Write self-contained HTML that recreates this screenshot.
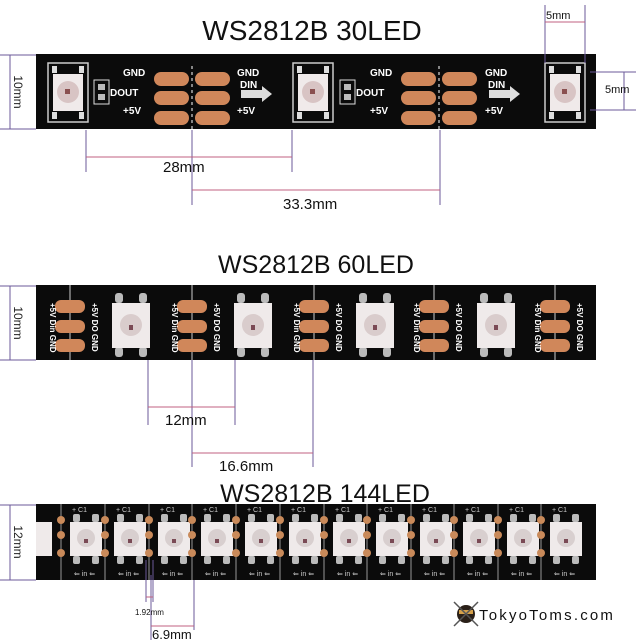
<!DOCTYPE html>
<html><head><meta charset="utf-8"><style>
html,body{margin:0;padding:0;background:#fff;width:640px;height:640px;overflow:hidden}
text{font-family:"Liberation Sans",sans-serif}
</style></head><body>
<svg width="640" height="640" viewBox="0 0 640 640" xmlns="http://www.w3.org/2000/svg">
<defs>
  <g id="led1">
    <rect x="0" y="0" width="40" height="59" fill="none" stroke="#ccc" stroke-width="1.5"/>
    <rect x="4" y="3" width="5" height="7" fill="#ddd"/><rect x="31" y="3" width="5" height="7" fill="#ddd"/>
    <rect x="4" y="49" width="5" height="7" fill="#ddd"/><rect x="31" y="49" width="5" height="7" fill="#ddd"/>
    <rect x="5" y="11" width="30" height="37" fill="#f0eaea"/>
    <circle cx="20" cy="29" r="11" fill="#d8c4c4"/><rect x="17" y="26" width="5" height="5" fill="#8a5050"/>
  </g>
  <g id="pads1">
    <rect x="0" y="11" width="35" height="14" rx="7" fill="#d0875a"/>
    <rect x="0" y="30" width="35" height="14" rx="7" fill="#d0875a"/>
    <rect x="0" y="50" width="35" height="14" rx="7" fill="#d0875a"/>
    <rect x="41" y="11" width="35" height="14" rx="7" fill="#d0875a"/>
    <rect x="41" y="30" width="35" height="14" rx="7" fill="#d0875a"/>
    <rect x="41" y="50" width="35" height="14" rx="7" fill="#d0875a"/>
    <line x1="38" y1="5" x2="38" y2="74" stroke="#fff" stroke-width="1" stroke-dasharray="3,3"/>
  </g>
  <g id="lab1">
    <text x="0" y="21" font-size="10" fill="#fff" font-weight="bold">GND</text>
    <text x="0" y="59" font-size="10" fill="#fff" font-weight="bold">+5V</text>
  </g>
  <g id="pads2">
    <line x1="0" y1="0" x2="0" y2="75" stroke="#ccc" stroke-width="1"/>
    <rect x="-15" y="15" width="30" height="13" rx="6" fill="#d0875a"/>
    <rect x="-15" y="35" width="30" height="13" rx="6" fill="#d0875a"/>
    <rect x="-15" y="54" width="30" height="13" rx="6" fill="#d0875a"/>
    <text transform="translate(-20,18) rotate(90)" font-size="8" fill="#fff" font-weight="bold">+5V Din GND</text>
    <text transform="translate(22,18) rotate(90)" font-size="8" fill="#fff" font-weight="bold">+5V DO GND</text>
  </g>
  <g id="led2">
    <rect x="3" y="8" width="8" height="10" rx="3" fill="#bbb"/><rect x="27" y="8" width="8" height="10" rx="3" fill="#bbb"/>
    <rect x="3" y="62" width="8" height="10" rx="3" fill="#bbb"/><rect x="27" y="62" width="8" height="10" rx="3" fill="#bbb"/>
    <rect x="0" y="18" width="38" height="45" fill="#efeaea"/>
    <circle cx="19" cy="40" r="11" fill="#d9cccc"/><rect x="17" y="40" width="4" height="5" fill="#7a4a55"/>
  </g>
  <g id="led3">
    <line x1="-9" y1="0" x2="-9" y2="76" stroke="#bbb" stroke-width="0.8"/>
    <circle cx="-9" cy="16" r="4" fill="#c98a5a"/><circle cx="-9" cy="31" r="4" fill="#c98a5a"/><circle cx="-9" cy="49" r="4" fill="#c98a5a"/>
    <rect x="3" y="10" width="7" height="8" rx="2" fill="#bbb"/><rect x="22" y="10" width="7" height="8" rx="2" fill="#bbb"/>
    <rect x="3" y="52" width="7" height="8" rx="2" fill="#bbb"/><rect x="22" y="52" width="7" height="8" rx="2" fill="#bbb"/>
    <rect x="0" y="18" width="32" height="34" fill="#efeaea"/>
    <circle cx="16" cy="34" r="9" fill="#d8cfcf"/><rect x="14" y="35" width="4" height="4" fill="#7a4a55"/>
    <text x="2" y="8" font-size="7" fill="#ccc">+ C1</text>
    <text x="4" y="72" font-size="7" fill="#ccc">⇐ in ⇐</text>
  </g>
</defs>

<!-- Strip 1 -->
<text x="312" y="40" font-size="28" text-anchor="middle" fill="#111">WS2812B 30LED</text>
<rect x="36" y="54" width="560" height="75" fill="#0b0b0b"/>
<use href="#led1" x="48" y="63"/><use href="#led1" x="293" y="63"/><use href="#led1" x="545" y="63"/>
<use href="#pads1" x="154" y="61"/><use href="#pads1" x="401" y="61"/>
<g fill="none" stroke="#ddd"><rect x="94" y="80" width="15" height="24"/><rect x="340" y="80" width="15" height="24"/></g>
<rect x="98" y="84" width="7" height="6" fill="#bbb"/><rect x="98" y="94" width="7" height="6" fill="#bbb"/>
<rect x="344" y="84" width="7" height="6" fill="#bbb"/><rect x="344" y="94" width="7" height="6" fill="#bbb"/>
<use href="#lab1" x="123" y="55"/><use href="#lab1" x="370" y="55"/>
<use href="#lab1" x="237" y="55"/><use href="#lab1" x="485" y="55"/>
<text x="110" y="96" font-size="10" fill="#fff" font-weight="bold">DOUT</text>
<text x="356" y="96" font-size="10" fill="#fff" font-weight="bold">DOUT</text>
<text x="240" y="88" font-size="10" fill="#fff" font-weight="bold">DIN</text>
<text x="488" y="88" font-size="10" fill="#fff" font-weight="bold">DIN</text>
<polygon points="241,90 262,90 262,86 272,94 262,102 262,98 241,98" fill="#ddd"/>
<polygon points="489,90 510,90 510,86 520,94 510,102 510,98 489,98" fill="#ddd"/>
<!-- dims strip1 -->
<g stroke="#6b5a9a" stroke-width="1" fill="none">
<line x1="10" y1="55" x2="10" y2="129"/><line x1="0" y1="55" x2="36" y2="55"/><line x1="0" y1="129" x2="36" y2="129"/>
<line x1="86" y1="130" x2="86" y2="172"/><line x1="292" y1="130" x2="292" y2="172"/>
<line x1="192" y1="130" x2="192" y2="205"/><line x1="440" y1="130" x2="440" y2="205"/>
<line x1="545" y1="5" x2="545" y2="63"/><line x1="585" y1="5" x2="585" y2="63"/>
<line x1="590" y1="72" x2="636" y2="72"/><line x1="590" y1="110" x2="636" y2="110"/><line x1="624" y1="72" x2="624" y2="110"/>
</g>
<g stroke="#c06080" stroke-width="1"><line x1="86" y1="157" x2="292" y2="157"/><line x1="192" y1="190" x2="440" y2="190"/><line x1="545" y1="22" x2="585" y2="22"/></g>
<text transform="translate(14,92) rotate(90)" font-size="12" text-anchor="middle" fill="#222">10mm</text>
<text x="163" y="172" font-size="15" fill="#111">28mm</text>
<text x="283" y="209" font-size="15" fill="#111">33.3mm</text>
<text x="546" y="19" font-size="11" fill="#111">5mm</text>
<text x="605" y="93" font-size="11" fill="#111">5mm</text>

<!-- Strip 2 -->
<text x="316" y="273" font-size="25" text-anchor="middle" fill="#111">WS2812B 60LED</text>
<rect x="36" y="285" width="560" height="75" fill="#0b0b0b"/>
<use href="#pads2" x="70" y="285"/><use href="#pads2" x="192" y="285"/><use href="#pads2" x="314" y="285"/><use href="#pads2" x="434" y="285"/><use href="#pads2" x="555" y="285"/>
<use href="#led2" x="112" y="285"/><use href="#led2" x="234" y="285"/><use href="#led2" x="356" y="285"/><use href="#led2" x="477" y="285"/>
<g stroke="#6b5a9a" stroke-width="1" fill="none">
<line x1="10" y1="286" x2="10" y2="360"/><line x1="0" y1="286" x2="36" y2="286"/><line x1="0" y1="360" x2="36" y2="360"/>
<line x1="148" y1="360" x2="148" y2="425"/><line x1="235" y1="360" x2="235" y2="425"/>
<line x1="192" y1="360" x2="192" y2="467"/><line x1="313" y1="360" x2="313" y2="467"/>
</g>
<g stroke="#c06080"><line x1="148" y1="407" x2="235" y2="407"/><line x1="192" y1="453" x2="313" y2="453"/></g>
<text transform="translate(14,323) rotate(90)" font-size="12" text-anchor="middle" fill="#222">10mm</text>
<text x="165" y="425" font-size="15" fill="#111">12mm</text>
<text x="219" y="471" font-size="15" fill="#111">16.6mm</text>

<!-- Strip 3 -->
<text x="325" y="502" font-size="25" text-anchor="middle" fill="#111">WS2812B 144LED</text>
<rect x="36" y="504" width="560" height="76" fill="#0b0b0b"/>
<rect x="36" y="522" width="16" height="34" fill="#efeaea"/>
<use href="#led3" x="70" y="504"/><use href="#led3" x="114" y="504"/><use href="#led3" x="158" y="504"/><use href="#led3" x="201" y="504"/><use href="#led3" x="245" y="504"/><use href="#led3" x="289" y="504"/><use href="#led3" x="333" y="504"/><use href="#led3" x="376" y="504"/><use href="#led3" x="420" y="504"/><use href="#led3" x="463" y="504"/><use href="#led3" x="507" y="504"/><use href="#led3" x="550" y="504"/>
<g stroke="#6b5a9a" stroke-width="1" fill="none">
<line x1="10" y1="505" x2="10" y2="580"/><line x1="0" y1="505" x2="36" y2="505"/><line x1="0" y1="580" x2="36" y2="580"/>
<line x1="146" y1="560" x2="146" y2="602"/><line x1="153" y1="560" x2="153" y2="602"/>
<line x1="151" y1="575" x2="151" y2="640"/><line x1="194" y1="580" x2="194" y2="630"/>
</g>
<g stroke="#c06080"><line x1="146" y1="597" x2="153" y2="597"/><line x1="151" y1="626" x2="194" y2="626"/></g>
<text transform="translate(14,542) rotate(90)" font-size="12" text-anchor="middle" fill="#222">12mm</text>
<text x="135" y="615" font-size="8" fill="#111">1.92mm</text>
<text x="152" y="639" font-size="13" fill="#111">6.9mm</text>

<!-- logo -->
<circle cx="466" cy="614" r="9" fill="#2a2018"/>
<rect x="459" y="610" width="14" height="4" fill="#d4a04a"/>
<line x1="454" y1="602" x2="478" y2="626" stroke="#555" stroke-width="1.5"/><line x1="478" y1="602" x2="454" y2="626" stroke="#555" stroke-width="1.5"/>
<text x="479" y="620" font-size="15" fill="#111" letter-spacing="2.2">TokyoToms.com</text>
</svg>
</body></html>
